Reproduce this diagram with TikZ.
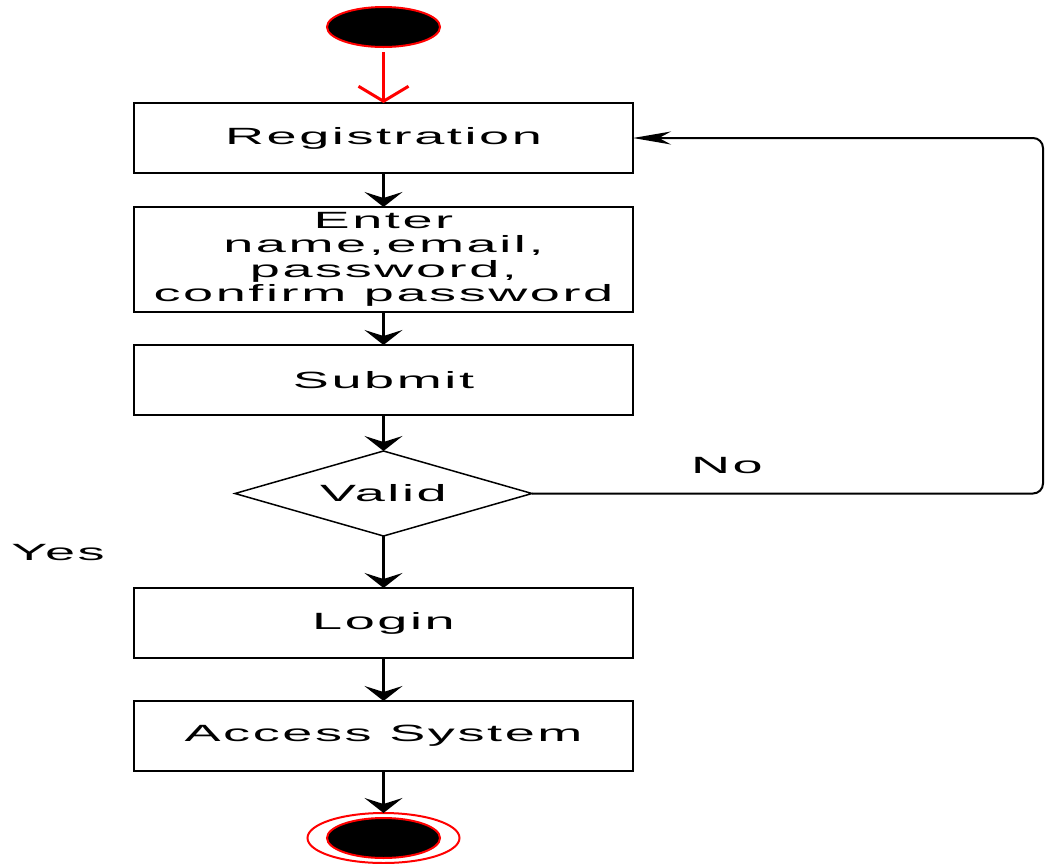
\documentclass[tikz,border=0pt]{standalone}
\usepackage{fontspec}
\newfontfamily\flowfont[FakeStretch=2.3,LetterSpace=11]{Liberation Sans}
\usetikzlibrary{arrows.meta,shapes.geometric,positioning}
\tikzset{x=1pt, y=-1pt, every node/.style={outer sep=0pt, inner sep=0pt, font=\flowfont\fontsize{23.5}{24.5}\selectfont}, stepbox/.style={rectangle, draw, line width=2pt, minimum width=499pt, minimum height=70pt, align=center}, decide/.style={diamond, draw, line width=1.5pt, minimum width=297pt, minimum height=85pt, aspect=3.5}, startdot/.style={ellipse, draw=red, fill=black, line width=2pt, minimum width=113pt, minimum height=40pt}, endring/.style={ellipse, draw=red, fill=white, line width=2pt, minimum width=152pt, minimum height=50pt}, flow/.style={line width=3.5pt, -{Stealth[width=38pt,length=15pt,inset=6pt]}}, firstflow/.style={red, line width=3pt, shorten <=5pt, -{Straight Barb[width=50pt,length=15pt,line width=3pt]}}, back/.style={line width=2pt, rounded corners=10pt, -{Stealth[width=13pt,length=38pt,inset=12pt]}}}

\begin{document}
\begin{tikzpicture}
    \useasboundingbox (0,0) rectangle (1045,863);
    \node[startdot] (start) at (383.5,27) {};
    \node[stepbox, below=56pt of start] (reg) {Registration};
    \node[stepbox, below=34pt of reg, minimum height=105pt] (enter) {Enter\\name,email,\\password,\\confirm password};
    \node[stepbox, below=33pt of enter] (submit) {Submit};
    \node[decide, below=36pt of submit] (valid) {Valid};
    \node[stepbox, below=52pt of valid] (login) {Login};
    \node[stepbox, below=43pt of login] (access) {Access System};
    \node[endring, below=42pt of access] (stop) {};
    \node[startdot] (stopdot) at (stop) {};
    \node (no) at (727,466) {No};
    \node (yes) at (58,553) {Yes};
    \coordinate (turn) at (1043,138);
    \draw[firstflow] (start) -- (reg);
    \draw[flow] (reg) -- (enter);
    \draw[flow] (enter) -- (submit);
    \draw[flow] (submit) -- (valid);
    \draw[flow] (valid) -- (login);
    \draw[flow] (login) -- (access);
    \draw[flow] (access) -- (stop);
    \draw[back] (valid.east) -| (turn) -- (reg.east);
\end{tikzpicture}
\end{document}
